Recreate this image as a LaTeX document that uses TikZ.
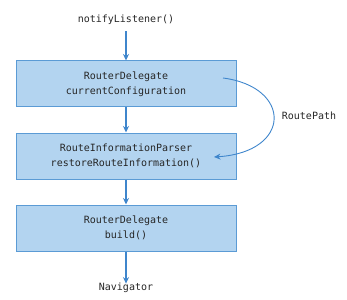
\documentclass[tikz,border=0pt]{standalone}
\usepackage{fontspec}
\setmonofont{DejaVu Sans Mono}
\usetikzlibrary{arrows.meta}
\definecolor{boxfill}{HTML}{B3D4F0}
\definecolor{boxline}{HTML}{5B9BD5}
\definecolor{flow}{HTML}{3F86CC}
\definecolor{txt}{HTML}{262626}
\begin{document}
\begin{tikzpicture}[x=1pt,y=-1pt,
  stagebox/.style={draw=boxline, fill=boxfill, line width=1pt,
    minimum width=220pt, minimum height=46pt, align=center,
    text=txt, font=\ttfamily\fontsize{10}{15.5}\selectfont},
  plain/.style={text=txt, font=\ttfamily\fontsize{10}{12}\selectfont},
  flowarrow/.style={draw=flow, line width=1.1pt,
    -{Stealth[length=6.5pt,width=6pt]}}]
  \useasboundingbox (0,0) rectangle (347,299);

  % call chain
  \node[plain] (notify) at (126,20) {notifyListener()};
  \node[stagebox] (delegate) at (126,84) {RouterDelegate\\currentConfiguration};
  \node[stagebox] (parser) at (126,156) {RouteInformationParser\\restoreRouteInformation()};
  \node[stagebox] (build) at (126,228) {RouterDelegate\\build()};
  \node[plain] (nav) at (126,288) {Navigator};

  \draw[flowarrow] (notify.south) ++(0,3) -- (delegate.north);
  \draw[flowarrow] (delegate) -- (parser);
  \draw[flowarrow] (parser) -- (build);
  \draw[flowarrow] (build.south) -- ([yshift=-4pt]nav.north);

  % RoutePath hand-off from the delegate back into the parser
  \coordinate (pathstart) at (223,78);
  \coordinate (pathend) at (214,157);
  \draw[flowarrow, line width=0.9pt] (pathstart) .. controls (292,87) and (292,152) .. (pathend);
  \node[plain] (routepath) at (309,116) {RoutePath};
\end{tikzpicture}
\end{document}
